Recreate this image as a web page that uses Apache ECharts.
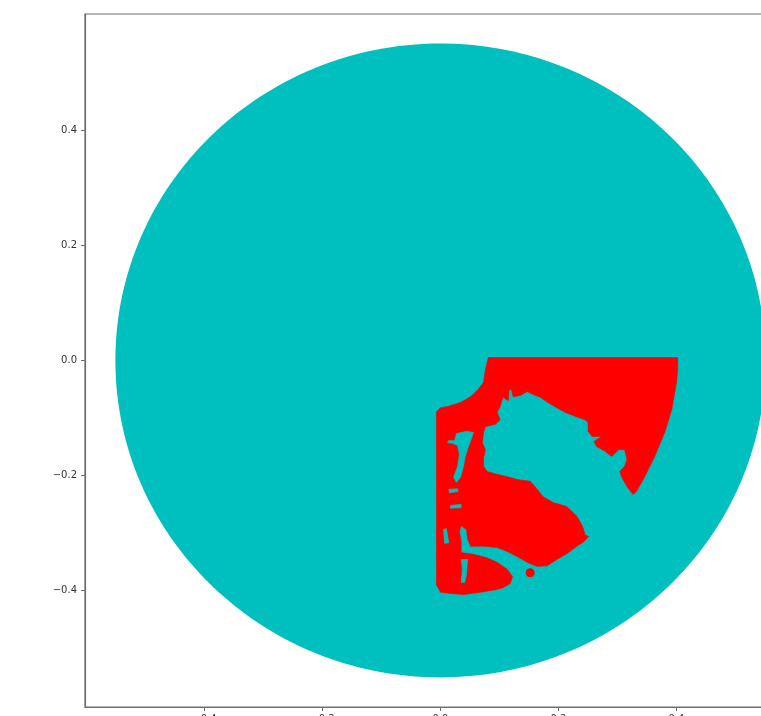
<!DOCTYPE html>
<html>
<head>
<meta charset="utf-8">
<script src="https://cdn.jsdelivr.net/npm/echarts@6/dist/echarts.min.js"></script>
<style>
  html, body { margin: 0; padding: 0; background: #ffffff; }
  #chart { width: 761px; height: 716px; }
</style>
</head>
<body>
<div id="chart"></div>
<script>
// Axis extents and tick positions (same scale on both axes)
const axisRange = [-0.6025, 0.6025];
const xTicks = [-0.4, -0.2, 0.0, 0.2, 0.4];
const yTicks = [-0.4, -0.2, 0.0, 0.2, 0.4];

// Cyan point cloud: a filled disk
const diskCenter = [0, 0];
const diskRadius = 0.551;

// Red point cloud: outline of the filled region (x, y)
const redOutline = [
  [0.081, 0.005], [0.402, 0.005], [0.402, -0.016], [0.400, -0.038], [0.392, -0.085],
  [0.380, -0.125], [0.363, -0.167], [0.346, -0.202], [0.332, -0.228], [0.326, -0.233],
  [0.316, -0.219], [0.307, -0.203], [0.304, -0.193], [0.312, -0.184], [0.316, -0.172],
  [0.312, -0.155], [0.302, -0.155], [0.290, -0.167], [0.278, -0.157], [0.265, -0.150],
  [0.260, -0.141], [0.273, -0.132], [0.257, -0.132], [0.250, -0.123], [0.250, -0.108],
  [0.245, -0.103], [0.228, -0.097], [0.211, -0.090], [0.197, -0.082], [0.182, -0.073],
  [0.169, -0.064], [0.157, -0.059], [0.147, -0.054], [0.135, -0.061], [0.123, -0.063],
  [0.120, -0.050], [0.116, -0.052], [0.115, -0.070], [0.106, -0.064], [0.101, -0.080],
  [0.096, -0.090], [0.101, -0.103], [0.093, -0.111], [0.076, -0.115], [0.073, -0.125],
  [0.071, -0.143], [0.076, -0.155], [0.073, -0.169], [0.073, -0.184], [0.079, -0.193],
  [0.096, -0.198], [0.113, -0.202], [0.130, -0.207], [0.152, -0.210], [0.164, -0.224],
  [0.174, -0.237], [0.191, -0.247], [0.214, -0.254], [0.231, -0.271], [0.241, -0.289],
  [0.245, -0.303], [0.251, -0.306], [0.243, -0.315], [0.231, -0.323], [0.214, -0.336],
  [0.197, -0.346], [0.181, -0.357], [0.164, -0.358], [0.147, -0.351], [0.130, -0.341],
  [0.113, -0.332], [0.096, -0.325], [0.073, -0.323], [0.051, -0.323], [0.046, -0.311],
  [0.044, -0.294], [0.035, -0.287], [0.032, -0.297], [0.035, -0.315], [0.035, -0.334],
  [0.056, -0.337], [0.079, -0.343], [0.096, -0.351], [0.113, -0.363], [0.122, -0.376],
  [0.118, -0.388], [0.106, -0.395], [0.096, -0.398], [0.068, -0.403], [0.039, -0.407],
  [0.017, -0.405], [0.000, -0.403], [-0.007, -0.390], [-0.007, -0.346], [-0.007, -0.242],
  [-0.007, -0.137], [-0.007, -0.089], [0.000, -0.082], [0.012, -0.080], [0.034, -0.073],
  [0.051, -0.063], [0.064, -0.050], [0.073, -0.038], [0.076, -0.016]
];

// Cyan gaps inside the red region
const cyanGaps = [
  [[0.027, -0.127], [0.044, -0.123], [0.056, -0.125], [0.052, -0.137], [0.047, -0.151],
   [0.042, -0.167], [0.039, -0.184], [0.034, -0.203], [0.027, -0.212], [0.022, -0.203],
   [0.029, -0.184], [0.032, -0.163], [0.029, -0.148], [0.020, -0.144], [0.012, -0.143],
   [0.014, -0.139], [0.024, -0.139]],
  [[0.014, -0.224], [0.029, -0.223], [0.030, -0.228], [0.015, -0.230]],
  [[0.017, -0.252], [0.035, -0.250], [0.035, -0.256], [0.017, -0.257]],
  [[0.005, -0.294], [0.010, -0.292], [0.014, -0.317], [0.007, -0.318]],
  [[0.035, -0.346], [0.046, -0.346], [0.044, -0.372], [0.041, -0.386], [0.035, -0.386],
   [0.037, -0.363]]
];

// Isolated red points
const redDots = [[0.152, -0.369]];

const CYAN = '#00bfbf';
const RED = '#ff0000';

function fmt(v) {
  const s = Math.abs(v).toFixed(1);
  return v < -1e-9 ? '\u2212' + s : s;
}

function polygonRenderer(rings, color) {
  return function (params, api) {
    const pts = rings[params.dataIndex].map(p => api.coord(p));
    return {
      type: 'polygon',
      shape: { points: pts },
      style: { fill: color, stroke: color, lineWidth: 0.6 }
    };
  };
}

const axisCommon = {
  type: 'value',
  min: axisRange[0],
  max: axisRange[1],
  splitLine: { show: false },
  axisLine: { show: true, onZero: false, lineStyle: { color: '#6e6e6e', width: 1.2 } },
  axisTick: { show: true, inside: false, length: 4, lineStyle: { color: '#6e6e6e', width: 1 } },
  axisLabel: {
    show: true,
    color: '#333333',
    fontFamily: 'DejaVu Sans',
    fontSize: 10,
    formatter: fmt
  }
};

const chart = echarts.init(document.getElementById('chart'), null, { renderer: 'canvas' });
chart.setOption({
  animation: false,
  backgroundColor: '#ffffff',
  grid: {
    left: 85, top: 14, width: 711, height: 693,
    containLabel: false,
    outerBoundsMode: 'none',
    show: true, borderColor: '#6e6e6e', borderWidth: 1.2, backgroundColor: 'transparent'
  },
  xAxis: Object.assign({}, axisCommon, {
    position: 'bottom',
    axisTick: Object.assign({}, axisCommon.axisTick, { customValues: xTicks }),
    axisLabel: Object.assign({}, axisCommon.axisLabel, { customValues: xTicks, margin: 7 })
  }),
  yAxis: Object.assign({}, axisCommon, {
    position: 'left',
    axisTick: Object.assign({}, axisCommon.axisTick, { customValues: yTicks }),
    axisLabel: Object.assign({}, axisCommon.axisLabel, { customValues: yTicks, margin: 8 })
  }),
  series: [
    {
      type: 'custom',
      name: 'disk',
      z: 1,
      data: [diskCenter],
      renderItem: function (params, api) {
        const c = api.coord(diskCenter);
        const s = api.size([diskRadius, diskRadius]);
        return {
          type: 'ellipse',
          shape: { cx: c[0], cy: c[1], rx: s[0], ry: s[1] },
          style: { fill: CYAN }
        };
      }
    },
    {
      type: 'custom',
      name: 'region',
      z: 2,
      data: [redOutline[0]],
      renderItem: polygonRenderer([redOutline], RED)
    },
    {
      type: 'custom',
      name: 'gaps',
      z: 3,
      data: cyanGaps.map(r => r[0]),
      renderItem: polygonRenderer(cyanGaps, CYAN)
    },
    {
      type: 'scatter',
      name: 'dots',
      z: 4,
      symbol: 'circle',
      symbolSize: 9,
      itemStyle: { color: RED, opacity: 1 },
      data: redDots
    }
  ]
});
</script>
</body>
</html>
